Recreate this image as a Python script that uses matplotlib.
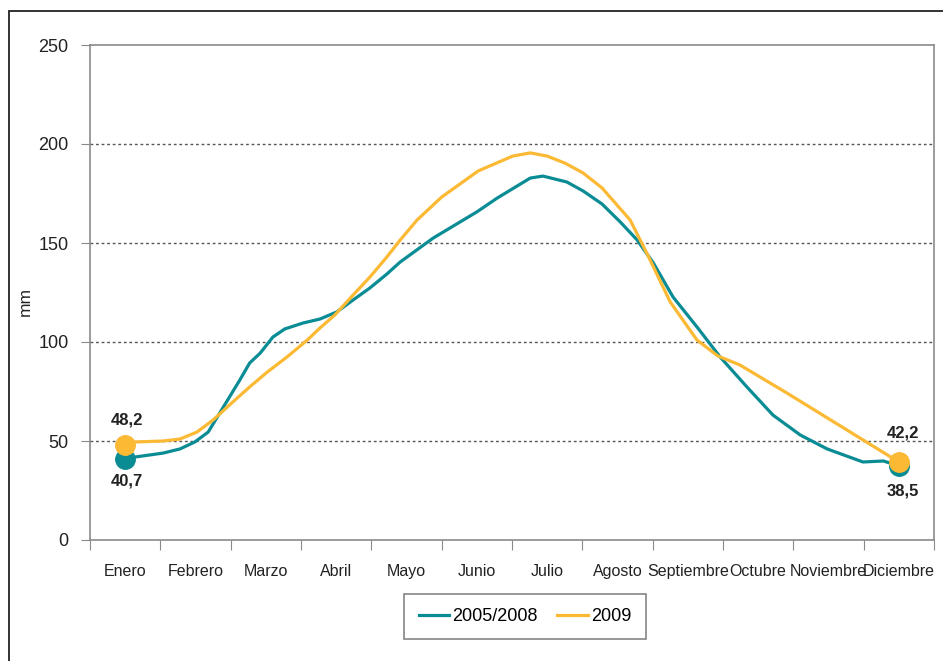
import numpy as np
import matplotlib
matplotlib.use('Agg')
from matplotlib import pyplot as plt
from matplotlib.patches import Rectangle

plt.rcParams['font.family'] = ['Liberation Sans', 'DejaVu Sans']

meses = ['Enero', 'Febrero', 'Marzo', 'Abril', 'Mayo', 'Junio', 'Julio',
         'Agosto', 'Septiembre', 'Octubre', 'Noviembre', 'Diciembre']

# posicion en meses (0 = Enero) y valores
x_0508 = [0.0, 0.14, 0.54, 0.78, 0.99, 1.18, 1.63, 1.77, 1.92, 2.10, 2.27, 2.53,
          2.77, 3.01, 3.24, 3.48, 3.72, 3.91, 4.38, 5.00, 5.29, 5.76, 5.94, 6.28,
          6.51, 6.78, 7.04, 7.28, 7.51, 7.79, 8.13, 8.46, 8.84, 9.21, 9.60, 9.98,
          10.49, 10.78, 11.0]
y_0508 = [41.0, 41.9, 43.9, 46.0, 49.5, 54.5, 80.8, 89.4, 94.4, 102.5, 106.6, 109.6,
          111.6, 115.2, 121.2, 127.3, 134.3, 140.4, 152.5, 165.7, 172.7, 182.8, 183.8, 180.8,
          176.3, 169.7, 160.6, 151.5, 139.9, 122.7, 107.6, 92.4, 77.3, 63.1, 53.0, 46.0,
          39.4, 39.9, 37.5]

x_2009 = [0.0, 0.14, 0.54, 0.78, 1.02, 1.25, 1.53, 1.77, 2.02, 2.30, 2.59, 2.77,
          2.98, 3.24, 3.48, 3.72, 3.91, 4.15, 4.50, 5.02, 5.51, 5.76, 6.00, 6.25,
          6.51, 6.78, 7.18, 7.43, 7.75, 8.13, 8.43, 8.74, 9.41, 11.0]
y_2009 = [48.0, 49.5, 50.0, 51.0, 54.5, 60.6, 69.7, 77.3, 84.8, 92.4, 101.0, 107.1,
          113.6, 123.7, 132.8, 142.9, 151.5, 161.6, 173.2, 186.4, 193.9, 195.5, 193.9, 190.4,
          185.4, 177.8, 161.6, 143.9, 120.2, 101.0, 92.9, 88.4, 74.2, 39.4]

etiquetas_0508 = ['40,7', '38,5']
etiquetas_2009 = ['48,2', '42,2']

teal = '#0a8c94'
naranja = '#fbb934'
gris = '#8a8a8a'

fig = plt.figure(figsize=(9.43, 6.61), dpi=100)
ax = fig.add_axes([90 / 943, 1 - 540 / 661, (934 - 90) / 943, (540 - 45) / 661])

# marco exterior
fig.patches.append(Rectangle((9 / 943, -0.1), 1.2, 1.1 - 11 / 661,
                             transform=fig.transFigure, fill=False,
                             edgecolor='#222222', linewidth=1.3))

ax.plot(x_0508, y_0508, color=teal, linewidth=2.3, label='2005/2008', zorder=3)
ax.plot(x_2009, y_2009, color=naranja, linewidth=2.3, label='2009', zorder=4)

ax.plot([x_0508[0], x_0508[-1]], [y_0508[0], y_0508[-1]], 'o', color=teal,
        markersize=14, zorder=5)
ax.plot([x_2009[0], x_2009[-1]], [y_2009[0], y_2009[-1]], 'o', color=naranja,
        markersize=14, zorder=6)

# etiquetas de los extremos
estilo = dict(textcoords='offset points', ha='center', va='center',
              fontsize=12, fontweight='bold', color='#222222')
ax.annotate(etiquetas_2009[0], (x_2009[0], y_2009[0]), xytext=(1, 18), **estilo)
ax.annotate(etiquetas_0508[0], (x_0508[0], y_0508[0]), xytext=(1, -16), **estilo)
ax.annotate(etiquetas_2009[1], (x_2009[-1], y_2009[-1]), xytext=(3, 21), **estilo)
ax.annotate(etiquetas_0508[1], (x_0508[-1], y_0508[-1]), xytext=(3, -18), **estilo)

ax.set_xlim(-0.5, 11.5)
ax.set_ylim(0, 250)
ax.set_yticks([0, 50, 100, 150, 200, 250])
ax.set_xticks(np.arange(-0.5, 12, 1))
ax.set_xticklabels([])
ax.set_xticks(np.arange(12), minor=True)
ax.set_xticklabels(meses, minor=True, fontsize=11.5, color='#222222')
ax.tick_params(axis='x', which='major', length=7, color=gris, direction='out')
ax.tick_params(axis='x', which='minor', length=0, pad=17)
ax.tick_params(axis='y', length=6.5, color=gris, pad=9, labelsize=13,
               labelcolor='#222222')

for y in [50, 100, 150, 200]:
    ax.axhline(y, color='#555555', linewidth=1, linestyle=(0, (2, 2)), zorder=1)

for s in ax.spines.values():
    s.set_color(gris)
    s.set_linewidth(1.2)

ax.set_ylabel('mm', fontsize=12.5, color='#222222')
ax.yaxis.set_label_coords((33 - 90) / 844, (540 - 302) / 495)

leg = fig.legend(loc='center', bbox_to_anchor=(525 / 943, 1 - 616.5 / 661),
                 ncol=2, fontsize=13, frameon=True, fancybox=False,
                 handlelength=1.7, handletextpad=0.15, columnspacing=1.1,
                 borderpad=0.8)
leg.get_frame().set_edgecolor('#666666')
leg.get_frame().set_linewidth(1.2)

plt.savefig('out.png', dpi=100)
